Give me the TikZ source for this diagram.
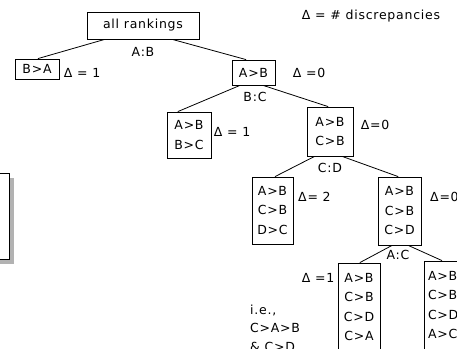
\documentclass[tikz,border=0pt]{standalone}
\usepackage{fontspec}
\setmainfont{DejaVu Sans}[LetterSpace=6]
\usetikzlibrary{calc}
\tikzset{
  txt/.style={font=\fontsize{12.5}{19.5}\selectfont, inner sep=0pt},
  rbox/.style={txt, draw, line width=0.8pt, align=center, minimum width=#1},
  lbl/.style={txt},
  edge/.style={line width=0.8pt},
}
\begin{document}
\begin{tikzpicture}[x=1pt,y=-1pt]
\useasboundingbox (0,0) rectangle (457,348);
\clip (0,0) rectangle (457,348);
% left shadowed box (cut off)
\fill[gray!60] (-16,178) rectangle (14,264);
\draw[line width=0.8pt, fill=white] (-20,173) rectangle (9,259);
% boxes
\node[rbox=112, minimum height=27] (root) at (143,25.5) {all rankings};
\node[rbox=44, minimum height=20] (ba) at (37,69) {B>A};
\node[rbox=43, minimum height=25] (ab) at (253.5,72.5) {A>B};
\node[rbox=44, minimum height=46] (abbc) at (189,135) {A>B\\B>C};
\node[rbox=46, minimum height=49] (abcb) at (330,131.5) {A>B\\C>B};
\node[rbox=41, minimum height=67] (abcbdc) at (272.5,210.5) {A>B\\C>B\\D>C};
\node[rbox=43, minimum height=68] (abcbcd) at (399.5,211) {A>B\\C>B\\C>D};
\node[rbox=42, minimum height=88] (bl) at (359,307) {A>B\\C>B\\C>D\\C>A};
\node[rbox=42, minimum height=88, text width=34pt, align=left] (br) at (445,305) {A>B\\C>B\\C>D\\A>C};
% connectors
\draw[edge] ($(root.south west)!0.16!(root.south east)$) -- ($(ba.north west)!0.52!(ba.north east)$);
\draw[edge] ($(root.south west)!0.76!(root.south east)$) -- ($(ab.north west)!0.33!(ab.north east)$);
\draw[edge] ($(ab.south west)!0.19!(ab.south east)$) -- ($(abbc.north west)!0.25!(abbc.north east)$);
\draw[edge] ($(ab.south west)!0.72!(ab.south east)$) -- ($(abcb.north west)!0.46!(abcb.north east)$);
\draw[edge] ($(abcb.south west)!0.17!(abcb.south east)$) -- ($(abcbdc.north west)!0.56!(abcbdc.north east)$);
\draw[edge] ($(abcb.south west)!0.76!(abcb.south east)$) -- ($(abcbcd.north west)!0.47!(abcbcd.north east)$);
\draw[edge] ($(abcbcd.south west)!0.33!(abcbcd.south east)$) -- ($(bl.north west)!0.52!(bl.north east)$);
\draw[edge] ($(abcbcd.south west)!0.70!(abcbcd.south east)$) -- ($(br.north west)!0.43!(br.north east)$);
% labels
\node[lbl] (legend) at (371,16) {Δ = \# discrepancies};
\node[lbl] (lab) at (143,52) {A:B};
\node[lbl] (lbc) at (255,97) {B:C};
\node[lbl] (lcd) at (330,168) {C:D};
\node[lbl] (lac) at (398,255) {A:C};
\node[lbl] (d1) at (82,73) {Δ = 1};
\node[lbl] (d2) at (309,73) {Δ =0};
\node[lbl] (d3) at (232,132) {Δ = 1};
\node[lbl] (d4) at (375,125) {Δ=0};
\node[lbl, anchor=west] (d5) at (298,197) {Δ= 2};
\node[lbl, anchor=west] (d6) at (430,197) {Δ=0};
\node[lbl] (d7) at (318,278) {Δ =1};
\node[lbl, anchor=west] (ie1) at (250,310) {i.e.,};
\node[lbl, anchor=west] (ie2) at (250,328) {C>A>B};
\node[lbl, anchor=west] (ie3) at (250,347) {\& C>D};
\end{tikzpicture}
\end{document}
